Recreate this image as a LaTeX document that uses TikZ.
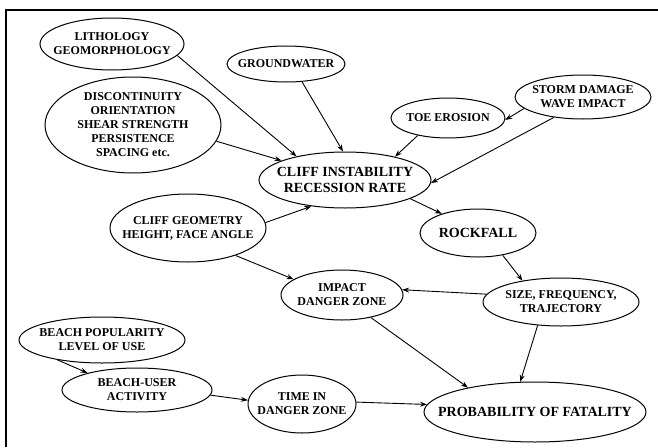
\documentclass[tikz,border=0pt]{standalone}
\usepackage{fontspec}
\setmainfont{Liberation Serif}
\usetikzlibrary{arrows.meta, shapes.geometric}
\begin{document}
\begin{tikzpicture}[x=1pt, y=-1pt,
    % Ellipse styles (factors and key outcomes)
    factor/.style 2 args={ellipse, draw, line width=1pt, font=\bfseries\fontsize{12}{14}\selectfont, align=center, inner sep=-40pt, minimum width=#1, minimum height=#2},
    key/.style={font=\bfseries\fontsize{14}{16.5}\selectfont},
    link/.style={-{Stealth[length=7pt, width=5pt]}, line width=0.9pt},
    frame/.style={line width=1.4pt}
]
\useasboundingbox (0,0) rectangle (658,447);

% ---------------------------------------------------------
% 1. FRAME
% ---------------------------------------------------------
\draw[frame] (6,447) -- (6,10) -- (658,10);

% ---------------------------------------------------------
% 2. ELLIPSES (Nodes)
% ---------------------------------------------------------
% --- Causes of instability ---
\node[factor={144pt}{52pt}] (lith) at (112,44) {LITHOLOGY\\GEOMORPHOLOGY};
\node[factor={118pt}{36pt}] (ground) at (286,64) {GROUNDWATER};
\node[factor={176pt}{96pt}] (discont) at (133,125) {DISCONTINUITY\\ORIENTATION\\SHEAR STRENGTH\\PERSISTENCE\\SPACING etc.};
\node[factor={114pt}{40pt}] (toe) at (448,118) {TOE EROSION};
\node[factor={136pt}{44pt}] (storm) at (583,97) {STORM DAMAGE\\WAVE IMPACT};

% --- Cliff and rockfall ---
\node[factor={172pt}{56pt}, key] (cliff) at (345,180) {CLIFF INSTABILITY\\RECESSION RATE};
\node[factor={156pt}{68pt}] (geometry) at (188,228) {CLIFF GEOMETRY\\HEIGHT, FACE ANGLE};
\node[factor={116pt}{48pt}, key] (rockfall) at (478,233) {ROCKFALL};
\node[factor={122pt}{50pt}] (impact) at (342,295) {IMPACT\\DANGER ZONE};
\node[factor={156pt}{48pt}] (size) at (561,302) {SIZE, FREQUENCY,\\TRAJECTORY};

% --- Beach users ---
\node[factor={166pt}{46pt}] (popular) at (102,340) {BEACH POPULARITY\\LEVEL OF USE};
\node[factor={150pt}{44pt}] (activity) at (137,390) {BEACH-USER\\ACTIVITY};
\node[factor={108pt}{58pt}] (time) at (302,404) {TIME IN\\DANGER ZONE};
\node[factor={222pt}{60pt}, key] (fatality) at (535,412) {PROBABILITY OF FATALITY};

% ---------------------------------------------------------
% 3. ARROWS (Connections)
% ---------------------------------------------------------
\draw[link] (lith.-10) -- (cliff.154);
\draw[link] (ground.-48) -- (cliff.94);
\draw[link] (discont.-11) -- (cliff.163);
\draw[link] (toe.-150) -- (cliff.25);
\draw[link] (storm.-169) -- (toe.-2);
\draw[link] (storm.-145) -- (cliff.-2);
\draw[link] (geometry.4) -- (cliff.-142);
\draw[link] (cliff.-16) -- (rockfall.152);
\draw[link] (geometry.-30) -- (impact.162);
\draw[link] (rockfall.-42) -- (size.151);
\draw[link] (size.174) -- (impact.5);
\draw[link] (impact.-38) -- (fatality.160);
\draw[link] (size.-135) -- (fatality.116);
\draw[link] (popular.-156) -- (activity.161);
\draw[link] (activity.-4) -- (time.176);
\draw[link] (time.2) -- (fatality.176);

\end{tikzpicture}
\end{document}
